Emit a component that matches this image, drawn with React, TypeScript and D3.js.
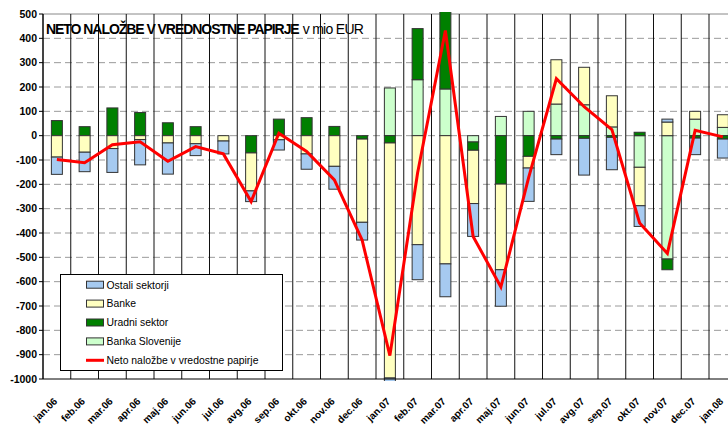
import React from 'react';
import * as d3 from 'd3';

const categories = ['jan.06','feb.06','mar.06','apr.06','maj.06','jun.06','jul.06','avg.06','sep.06','okt.06','nov.06','dec.06','jan.07','feb.07','mar.07','apr.07','maj.07','jun.07','jul.07','avg.07','sep.07','okt.07','nov.07','dec.07','jan.08'];
const ostaliSektorji = [-71,-80,-98,-104,-128,-49,-53,-44,-42,-63,-94,-73,-104,-144,-135,-135,-150,-137,-64,-151,-133,-85,12,-68,-78];
const banke = [-88,-68,-53,-16,-30,-33,-22,-156,-17,-75,-126,-342,-966,-448,-527,-219,-352,-48,182,154,128,-158,56,32,52];
const uradniSektor = [62,37,114,95,53,37,0,-71,68,74,38,-14,-30,210,900,-34,-199,-85,-14,-11,-7,14,-44,-10,-14];
const bankaSlovenije = [0,0,0,0,0,0,0,0,0,0,0,0,196,230,192,-26,79,100,130,127,36,-130,-507,68,34];
const netoNalozbe = [-98,-111,-37,-25,-105,-45,-75,-271,10,-65,-182,-429,-904,-152,432,-414,-622,-172,234,119,25,-359,-484,22,-5];
const yTicks = d3.range(-1000, 501, 100);

const seriesNames = ['Ostali sektorji', 'Banke', 'Uradni sektor', 'Banka Slovenije'];
const seriesColors = ['#A6CAF0', '#FFFFC0', '#008000', '#CCFFCC'];
const lineName = 'Neto naložbe v vredostne papirje';
const titleBold = 'NETO NALOŽBE V VREDNOSTNE PAPIRJE';
const titleRest = 'v mio EUR';

const FONT = '"Liberation Sans", Arial, sans-serif';

export default function App() {
  const W = 728, H = 426;
  const left = 43, top = 14, bottom = 379;
  const step = 27.75;
  const barW = 11;
  const x = d3.scaleBand<string>().domain(categories).range([left, left + step * categories.length]).padding(0);
  const y = d3.scaleLinear().domain([-1000, 500]).range([bottom, top]);
  const cx = (c: string) => (x(c) as number) + x.bandwidth() / 2;

  const rows = categories.map((c, i) => ({
    cat: c,
    bs: bankaSlovenije[i],
    ur: uradniSektor[i],
    ba: banke[i],
    os: ostaliSektorji[i],
  }));
  const keys = ['bs', 'ur', 'ba', 'os'];
  const keyColor: Record<string, string> = { bs: seriesColors[3], ur: seriesColors[2], ba: seriesColors[1], os: seriesColors[0] };
  const stacked = d3.stack<any>().keys(keys).offset(d3.stackOffsetDiverging)(rows);

  const line = d3.line<number>()
    .x((_, i) => cx(categories[i]))
    .y((d) => y(d));

  const legendRows = [284.7, 303.6, 322.5, 341.4, 360.3];

  return (
    <svg width={W} height={H} style={{ position: 'absolute', left: 0, top: 0, background: '#fff' }} fontFamily={FONT}>
      <defs>
        <clipPath id="plotClip">
          <rect x={left} y={top - 2} width={W - left} height={bottom - top + 4} />
        </clipPath>
      </defs>
      <rect x={0} y={0} width={W} height={H} fill="#fff" />
      {/* horizontal dashed gridlines */}
      {yTicks.filter((t) => t !== 500 && t !== -1000).map((t) => (
        <line key={'g' + t} x1={left} x2={W} y1={y(t)} y2={y(t)} stroke="#9a9a9a" strokeWidth={1} strokeDasharray="7 4" />
      ))}
      {/* top border */}
      <line x1={left} x2={W} y1={y(500)} y2={y(500)} stroke="#888" strokeWidth={1} />
      {/* vertical category lines */}
      {categories.map((c) => (
        <line key={'v' + c} x1={(x(c) as number)} x2={(x(c) as number)} y1={top} y2={bottom} stroke="#111" strokeWidth={1} />
      ))}
      {/* bars */}
      <g clipPath="url(#plotClip)">
        {stacked.map((s) => (
          <g key={s.key} fill={keyColor[s.key]}>
            {s.map((d, i) => {
              const v0 = d[0], v1 = d[1];
              if (v0 === v1) return null;
              const y0 = y(Math.max(v0, v1));
              const y1 = y(Math.min(v0, v1));
              return (
                <rect key={i} x={cx(categories[i]) - barW / 2} y={y0} width={barW} height={y1 - y0} stroke="#333" strokeWidth={1} />
              );
            })}
          </g>
        ))}
      </g>
      {/* axes */}
      <line x1={left} x2={left} y1={top} y2={bottom} stroke="#000" strokeWidth={1} />
      <line x1={left} x2={W} y1={bottom} y2={bottom} stroke="#000" strokeWidth={1} />
      {yTicks.map((t) => (
        <g key={'t' + t}>
          <line x1={left - 4} x2={left} y1={y(t)} y2={y(t)} stroke="#000" strokeWidth={1} />
          <text x={37} y={y(t) + 3.8} textAnchor="end" fontSize={10.5} fontWeight="bold" fill="#000">{t}</text>
        </g>
      ))}
      {/* x labels */}
      {categories.map((c) => (
        <text key={'x' + c} transform={`translate(${cx(c) + 1},${402}) rotate(-45)`} textAnchor="end" fontSize={10} fontWeight="bold" fill="#000">{c}</text>
      ))}
      {/* net line */}
      <path d={line(netoNalozbe) as string} fill="none" stroke="#FF0000" strokeWidth={3} strokeLinejoin="miter" />
      {/* title */}
      <text x={46} y={34} fontSize={14} fill="#000">
        <tspan fontWeight="bold" letterSpacing={-1.05}>{titleBold}</tspan>
        <tspan dx={4} letterSpacing={-0.7}>{titleRest}</tspan>
      </text>
      {/* legend */}
      <rect x={60.5} y={274.5} width={222} height={96} fill="#fff" stroke="#000" strokeWidth={1} />
      {seriesNames.map((n, i) => (
        <g key={n}>
          <rect x={86.5} y={legendRows[i] - 3.5} width={17} height={7} fill={seriesColors[i]} stroke="#333" strokeWidth={1} />
          <text x={106.5} y={legendRows[i] + 3.8} fontSize={10.4} fill="#000">{n}</text>
        </g>
      ))}
      <line x1={86} x2={104} y1={legendRows[4]} y2={legendRows[4]} stroke="#FF0000" strokeWidth={3} />
      <text x={106.5} y={legendRows[4] + 3.8} fontSize={10.4} fill="#000">{lineName}</text>
    </svg>
  );
}
